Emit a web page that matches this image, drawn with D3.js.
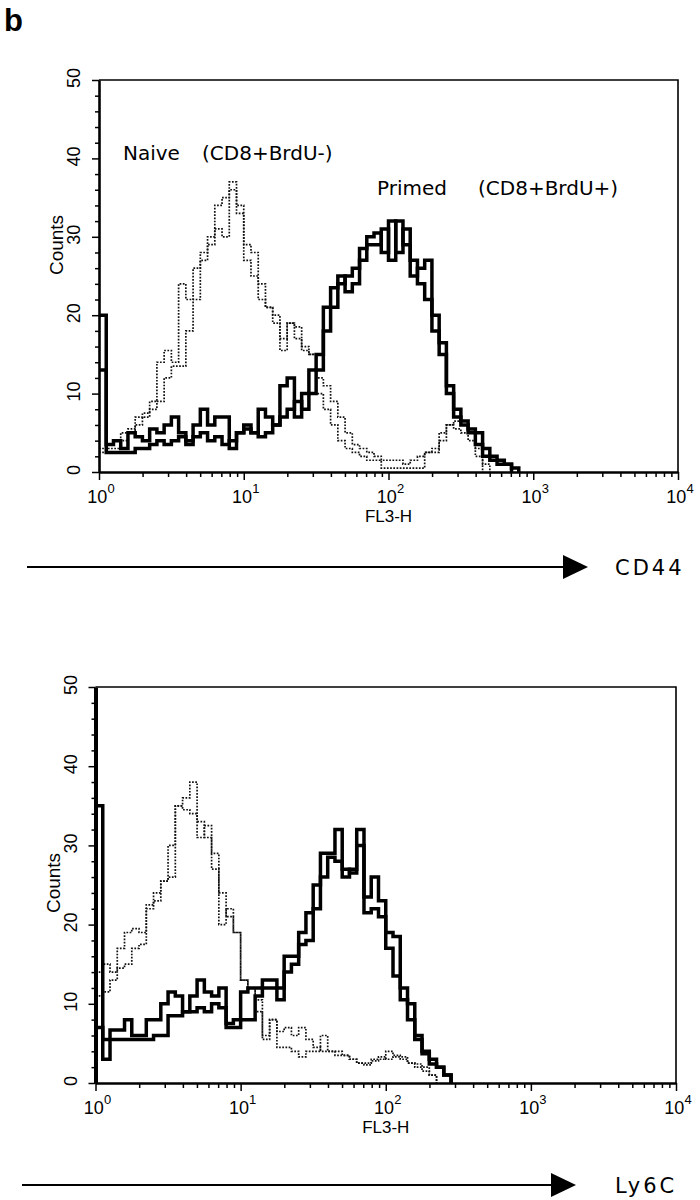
<!DOCTYPE html>
<html>
<head>
<meta charset="utf-8">
<script src="https://cdn.jsdelivr.net/npm/d3@7/dist/d3.min.js"></script>
<style>
body { margin: 0; background: #fff; }
svg { display: block; }
</style>
</head>
<body>
<script>
// histogram bins are 0.05 decade wide, first bin starts at 10^0
var binWidth = 0.05;

// CD44 panel
var cd44Naive1 = [3, 3.5, 4, 5, 5.5, 7, 7.5, 9, 14, 15.5, 14, 24, 22, 26, 28, 30, 34, 35, 37, 34, 27, 25, 22, 21, 19, 15.5, 19, 17, 15.5, 15, 10, 8, 6, 4, 3, 2.5, 2, 1.5, 1.5, 0.5, 0.5, 0.5, 0.5, 0.5, 0.5, 2.5, 3, 4, 6, 5.5, 5, 4, 2, 0];
var cd44Naive2 = [2.5, 3, 3, 4, 5, 6, 7, 8, 9, 12, 13.5, 13.5, 18, 22, 27, 29, 31, 30, 36, 33, 29, 28, 24, 21, 20, 17, 19, 18.5, 16, 15, 12, 11, 9, 7, 5, 3.5, 3, 2.5, 2, 1.5, 1.5, 1.5, 1, 1.5, 2, 2.5, 2.5, 5, 6, 6.5, 6, 5.5, 3, 1, 0];
var cd44Primed1 = [20, 3.5, 4, 3, 5, 4.5, 4, 5.5, 5, 6, 7, 5, 3.5, 6, 8, 6, 7, 7, 3, 5, 6, 5, 8, 7, 6, 11, 12, 7, 10, 13, 15, 21, 23.5, 25, 23, 24, 28.5, 30, 30.5, 28, 32, 28, 31, 27, 24, 22, 18, 15, 10, 7, 6, 5, 3.5, 2, 1.5, 1, 1, 0];
var cd44Primed2 = [13, 2.5, 2.5, 2.5, 2.5, 3, 3, 3.5, 4, 3.5, 4, 4.5, 4, 4.5, 5, 4, 4.5, 3.5, 4, 5, 5.5, 5, 4.5, 5, 6, 7, 8, 9, 8, 10, 13, 18, 21, 24, 25, 26, 27, 29, 29, 31, 27, 32, 29, 25, 26, 27, 20, 16.5, 11, 8, 6.5, 5.5, 5, 3, 2, 1.5, 1, 0.5, 0];

// Ly6C panel
var ly6cNaive1 = [14, 15, 14, 17, 19, 19.5, 19, 22, 24, 25.5, 30, 35, 36, 38, 33, 31, 29, 24, 21, 19, 13, 12, 9, 6, 8, 4.5, 4.5, 4, 3.3, 4, 4, 6, 4, 3.5, 3.5, 3, 2.5, 2.5, 3, 3, 4, 3.5, 3, 2.5, 2, 1.5, 1, 0];
var ly6cNaive2 = [11, 11.5, 13, 14.5, 15, 17, 17.5, 22.5, 23, 25.5, 26, 35, 34.5, 34, 31, 32.5, 27, 20, 22, 19, 13, 12, 10.5, 5.5, 8, 6.5, 7, 6, 7, 5.5, 4.5, 4, 4, 4, 3.5, 3, 2.5, 2.3, 2.8, 3.3, 3, 3.3, 3.3, 2.5, 2.4, 2, 1, 0];
var ly6cPrimed1 = [35, 3, 6.7, 6.7, 8, 6, 6, 8, 8, 10, 11.5, 11, 9, 11, 13, 11.5, 11, 12, 7.5, 8, 11.5, 12, 12, 13, 13, 12, 16, 16, 19, 21.5, 25, 29, 29, 32, 26, 27, 32, 21.5, 22, 21, 17, 13.5, 10.5, 8, 5.5, 3.7, 2.4, 2, 1, 0];
var ly6cPrimed2 = [7, 5.5, 5.5, 5.5, 5.5, 5.5, 5.5, 5.5, 6, 6, 8.5, 8.5, 9, 9, 9.5, 9, 10, 9.5, 7, 7, 8, 8, 11, 12, 12, 10.5, 14, 15, 17.5, 18, 22, 26, 28.5, 28, 27, 26.5, 30, 23.5, 26, 23, 19, 18.5, 12, 10, 6, 4, 3, 2, 1, 0];

// axis ticks
var decades = [1, 10, 100, 1000, 10000];
var decadeExp = ["0", "1", "2", "3", "4"];
var countTicks = [0, 10, 20, 30, 40, 50];

var svg = d3.select("body").append("svg")
    .attr("width", 700)
    .attr("height", 1200);

svg.append("text")
    .attr("x", 4)
    .attr("y", 31)
    .style("font-family", "'Liberation Sans', Arial, sans-serif")
    .style("font-weight", "bold")
    .style("font-size", "31px")
    .text("b");

var tickFont = "'Liberation Sans', Arial, sans-serif";
var labelFont = "'DejaVu Sans', Verdana, sans-serif";

function histPoints(values) {
    return values.map(function (v, i) {
        return [Math.pow(10, i * binWidth), v];
    });
}

function drawPanel(p) {
    var g = svg.append("g");

    var x = d3.scaleLog().domain([1, 10000]).range([p.x0, p.x1]);
    var y = d3.scaleLinear().domain([0, 50]).range([p.y0, p.y1]);

    // frame (top + right)
    g.append("path")
        .attr("d", "M" + p.x0 + "," + p.y1 + "H" + p.x1 + "V" + p.y0)
        .attr("fill", "none")
        .attr("stroke", "#000")
        .attr("stroke-width", 1.6);

    var line = d3.line()
        .x(function (d) { return x(d[0]); })
        .y(function (d) { return y(d[1]); })
        .curve(d3.curveStepAfter);

    p.naive.forEach(function (s) {
        g.append("path")
            .attr("d", line(histPoints(s)))
            .attr("fill", "none")
            .attr("stroke", "#111")
            .attr("stroke-width", 1.7)
            .attr("stroke-dasharray", "1.7,1.5");
    });

    p.primed.forEach(function (s) {
        g.append("path")
            .attr("d", line(histPoints(s)))
            .attr("fill", "none")
            .attr("stroke", "#000")
            .attr("stroke-width", 3.5);
    });

    // x axis, log with minor ticks
    var xTicks = [];
    decades.slice(0, 4).forEach(function (dec) {
        for (var k = 1; k < 10; k++) xTicks.push(k * dec);
    });
    xTicks.push(10000);

    var xAxis = g.append("g")
        .attr("transform", "translate(0," + p.y0 + ")")
        .call(d3.axisBottom(x).tickValues(xTicks).tickSize(5).tickSizeOuter(0).tickFormat(""));
    xAxis.select(".domain").attr("stroke-width", 2.4);
    xAxis.selectAll(".tick line")
        .attr("stroke-width", 1.5)
        .attr("y2", function (d) { return decades.indexOf(d) >= 0 ? 8 : 5; });

    decades.forEach(function (dec, i) {
        var t = g.append("text")
            .attr("x", x(dec) + 2)
            .attr("y", p.y0 + 31)
            .attr("text-anchor", "middle")
            .style("font-family", tickFont)
            .style("font-size", "18px");
        t.append("tspan").text("10");
        t.append("tspan")
            .attr("dy", -10)
            .style("font-size", "13px")
            .text(decadeExp[i]);
    });

    g.append("text")
        .attr("x", x(100))
        .attr("y", p.y0 + 50)
        .attr("text-anchor", "middle")
        .style("font-family", tickFont)
        .style("font-size", "17px")
        .text("FL3-H");

    // y axis
    var yTicks = d3.range(0, 51, 2);
    var yAxis = g.append("g")
        .attr("transform", "translate(" + p.x0 + ",0)")
        .call(d3.axisLeft(y).tickValues(yTicks).tickSize(4).tickSizeOuter(0).tickFormat(""));
    yAxis.select(".domain").attr("stroke-width", p.yAxisWidth);
    yAxis.selectAll(".tick line")
        .attr("stroke-width", 1.5)
        .attr("x2", function (d) { return countTicks.indexOf(d) >= 0 ? -7 : -4; });

    countTicks.forEach(function (c) {
        g.append("text")
            .attr("transform", "translate(" + (p.x0 - 19) + "," + (y(c) - 2) + ") rotate(-90)")
            .attr("text-anchor", "middle")
            .style("font-family", tickFont)
            .style("font-size", "18px")
            .text(c);
    });

    g.append("text")
        .attr("transform", "translate(" + (p.x0 - 36) + "," + p.countsY + ") rotate(-90)")
        .attr("text-anchor", "middle")
        .style("font-family", tickFont)
        .style("font-size", "19px")
        .text("Counts");

    // annotations inside plot
    (p.notes || []).forEach(function (n) {
        g.append("text")
            .attr("x", n.x)
            .attr("y", n.y)
            .style("font-family", labelFont)
            .style("font-size", "20px")
            .text(n.text);
    });

    // marker arrow
    g.append("line")
        .attr("x1", p.arrow.x1)
        .attr("x2", p.arrow.x2 - 4)
        .attr("y1", p.arrow.y)
        .attr("y2", p.arrow.y)
        .attr("stroke", "#000")
        .attr("stroke-width", 2.2);
    g.append("path")
        .attr("d", "M" + (p.arrow.x2 - 25) + "," + (p.arrow.y - 12) +
            "L" + p.arrow.x2 + "," + p.arrow.y +
            "L" + (p.arrow.x2 - 25) + "," + (p.arrow.y + 12) + "Z")
        .attr("fill", "#000");
    g.append("text")
        .attr("x", 615)
        .attr("y", p.arrow.y + 8)
        .style("font-family", labelFont)
        .style("font-size", "21px")
        .style("letter-spacing", "3px")
        .text(p.marker);
}

drawPanel({
    x0: 99, x1: 678, y0: 472, y1: 80,
    yAxisWidth: 2.6,
    countsY: 245,
    naive: [cd44Naive1, cd44Naive2],
    primed: [cd44Primed1, cd44Primed2],
    notes: [
        { text: "Naive", x: 123, y: 160 },
        { text: "(CD8+BrdU-)", x: 202, y: 160 },
        { text: "Primed", x: 377, y: 195 },
        { text: "(CD8+BrdU+)", x: 478, y: 195 }
    ],
    arrow: { x1: 27, x2: 588, y: 567 },
    marker: "CD44"
});

drawPanel({
    x0: 95.5, x1: 676, y0: 1083, y1: 687,
    yAxisWidth: 4,
    countsY: 883,
    naive: [ly6cNaive1, ly6cNaive2],
    primed: [ly6cPrimed1, ly6cPrimed2],
    notes: [],
    arrow: { x1: 22, x2: 576, y: 1185 },
    marker: "Ly6C"
});
</script>
</body>
</html>
